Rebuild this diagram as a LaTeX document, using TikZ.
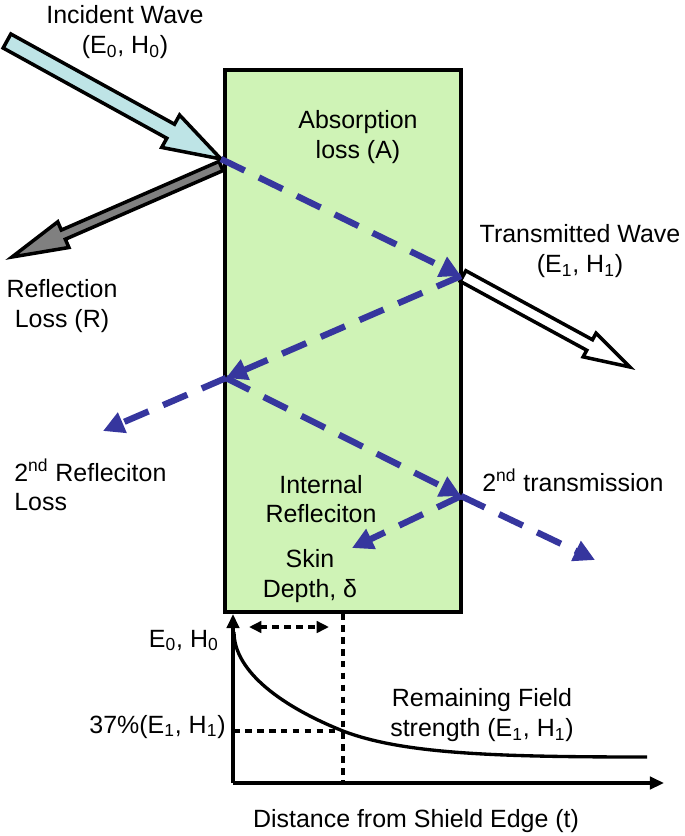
\documentclass[tikz,border=0pt]{standalone}
\usepackage{fontspec}
\setmainfont{Liberation Sans}
\usetikzlibrary{calc,arrows.meta}

\definecolor{shield}{RGB}{207,243,182}
\definecolor{incident}{RGB}{190,228,230}
\definecolor{wave}{RGB}{54,54,158}

% tail, tip, fill, shaft half width, head half width, head length
\newcommand{\widearrow}[6]{%
  \coordinate (wa-base) at ($(#2)!#6!(#1)$);
  \draw[widebody, fill=#3] ($(#1)!#4!90:(#2)$) -- ($(wa-base)!#4!-90:(#1)$)
    -- ($(wa-base)!#5!-90:(#1)$) -- (#2) -- ($(wa-base)!#5!90:(#1)$)
    -- ($(wa-base)!#4!90:(#1)$) -- ($(#1)!#4!-90:(#2)$) -- cycle;
}

\tikzset{
  lbl/.style={inner sep=0pt, font=\fontsize{14.2}{16.8}\selectfont},
  ray/.style={draw=wave, line width=3.6pt, dash pattern=on 15pt off 9pt,
    -{Triangle[length=12pt,width=12pt]}},
  guide/.style={line width=2pt, dash pattern=on 3.8pt off 3pt},
  axis/.style={line width=2.2pt, -{Triangle[length=8pt,width=7pt]}},
  widebody/.style={line width=2pt, line join=miter},
}

\begin{document}
\begin{tikzpicture}[x=0.02cm, y=-0.02cm]
  \useasboundingbox (0,0) rectangle (685,836);

  % shield
  \draw[line width=2pt, fill=shield] (225,70) rectangle (461,612);

  % points where the waves meet the shield
  \coordinate (itail) at (7,41);
  \coordinate (hit1) at (221,159);
  \coordinate (rtail) at (221,166);
  \coordinate (rtip) at (12,257);
  \coordinate (exit1) at (461,276);
  \coordinate (ttail) at (463,276);
  \coordinate (ttip) at (630,367);
  \coordinate (hit2) at (226,378);
  \coordinate (refl2) at (103,431);
  \coordinate (exit2) at (461,496);
  \coordinate (skin) at (352,548);
  \coordinate (trans2) at (595,560);

  % incident, reflected and transmitted waves
  \widearrow{itail}{hit1}{incident}{0.16cm}{0.37cm}{1.15cm}
  \widearrow{rtail}{rtip}{gray}{0.1cm}{0.28cm}{1.12cm}
  \widearrow{ttail}{ttip}{white}{0.12cm}{0.27cm}{0.92cm}

  % paths inside the shield
  \draw[ray] (hit1) -- (exit1);
  \draw[ray] (exit1) -- (hit2);
  \draw[ray] (hit2) -- (refl2);
  \draw[ray] (hit2) -- (exit2);
  \draw[ray] (exit2) -- (skin);
  \draw[ray] (exit2) -- (trans2);

  % labels
  \node[lbl, align=center] (incidentlbl) at (125,32) {Incident Wave\\(E\textsubscript{0}, H\textsubscript{0})};
  \node[lbl, align=center] (absorption) at (358,137) {Absorption\\loss (A)};
  \node[lbl, align=center] (transmitted) at (580,251) {Transmitted Wave\\(E\textsubscript{1}, H\textsubscript{1})};
  \node[lbl, align=center] (reflection) at (62,306) {Reflection\\Loss (R)};
  \node[lbl, align=left, anchor=west] (reflection2) at (14,485) {2\textsuperscript{nd} Refleciton\\Loss};
  \node[lbl, align=center] (internal) at (321,499) {Internal\\Refleciton};
  \node[lbl, align=center] (skindepth) at (310,576) {Skin\\Depth, δ};
  \node[lbl, anchor=base west] (transmission2) at (482,491) {2\textsuperscript{nd} transmission};

  % field strength against depth
  \coordinate (origin) at (233,783);
  \coordinate (yend) at (233,614);
  \coordinate (xend) at (664,783);
  \coordinate (depth) at (343,783);
  \coordinate (depthtop) at (343,613);
  \coordinate (cross) at (343,731);
  \coordinate (level) at (233,731);
  \draw[axis] (origin) -- (yend);
  \draw[axis] (origin) -- (xend);
  \draw[line width=1.9pt] (234,632) .. controls (234,672) and (283,707) .. (cross)
    .. controls (403,754) and (497,757) .. (647,757);
  \draw[guide] (level) -- (cross);
  \draw[guide] (depthtop) -- (depth);
  \coordinate (dleft) at (249,627);
  \coordinate (dright) at (329,627);
  \draw[guide, {Triangle[length=7pt,width=6.5pt]}-{Triangle[length=7pt,width=6.5pt]}] (dleft) -- (dright);

  \node[lbl, anchor=base east] (ezero) at (219,647) {E\textsubscript{0}, H\textsubscript{0}};
  \node[lbl, anchor=base east] (percent) at (226,733) {37\%(E\textsubscript{1}, H\textsubscript{1})};
  \node[lbl, align=center] (remaining) at (482,715) {Remaining Field\\strength (E\textsubscript{1}, H\textsubscript{1})};
  \node[lbl, anchor=base] (distance) at (416,827) {Distance from Shield Edge (t)};
\end{tikzpicture}
\end{document}
